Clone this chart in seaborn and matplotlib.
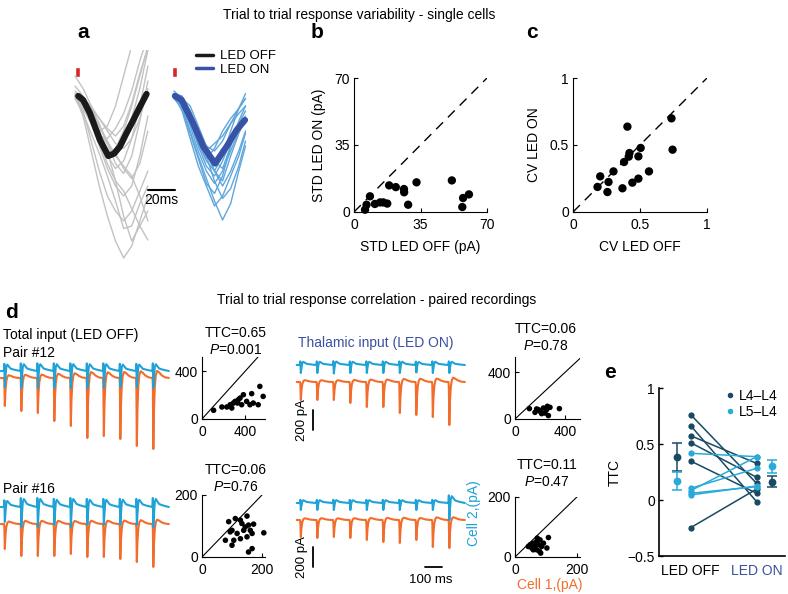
import numpy as np
import pandas as pd
import matplotlib
matplotlib.use('Agg')
import matplotlib.pyplot as plt
from matplotlib.lines import Line2D
import seaborn as sns

# ---------------- panel a: single-cell trials (pA), knots every 6 ms ----------------
trial_t = [0, 6, 12, 18, 24, 30, 36, 42, 48, 54]
off_trials = [
    [0, -15, -50, -90, -115, -105, -70, -20, 40, 100],
    [10, -5, -35, -80, -120, -145, -130, -85, -20, 60],
    [0, -30, -90, -150, -200, -230, -250, -230, -190, -150],
    [-5, -25, -55, -80, -85, -65, -35, 10, 70, 120],
    [0, -10, -40, -70, -110, -170, -240, -290, -260, -230],
    [5, -5, -25, -55, -95, -135, -155, -120, -50, 30],
    [0, -40, -110, -180, -240, -290, -324, -300, -250, -200],
    [0, -10, -25, -45, -65, -80, -60, -15, 45, 95],
    [5, -20, -55, -100, -145, -180, -200, -180, -120, -40],
    [0, -5, -20, -45, -70, -95, -105, -85, -45, 15],
    [-5, -35, -75, -115, -160, -210, -265, -260, -215, -180],
    [40, 15, -20, -60, -95, -120, -95, -45, 15, 92],
    [0, -20, -55, -95, -135, -170, -190, -225, -260, -288],
    [0, -10, -40, -75, -95, -115, -145, -165, -135, -70],
    [0, -20, -50, -70, -60, -20, 40, 100, 150, 200],
    [20, 0, -30, -60, -90, -120, -140, -160, -200, -250],
]
on_t = [0, 6, 12, 18, 24, 30, 36, 42, 48, 53]
on_trials = [
    [0, -10, -50, -100, -140, -160, -130, -90, -55, -30],
    [5, 0, -30, -70, -110, -150, -170, -120, -75, -45],
    [0, -20, -70, -120, -165, -210, -248, -215, -150, -100],
    [10, -5, -40, -80, -100, -110, -90, -55, -25, -5],
    [0, -15, -60, -110, -150, -175, -150, -110, -70, -50],
    [-5, -25, -75, -125, -175, -195, -160, -100, -60, -40],
    [0, -5, -20, -60, -100, -130, -145, -100, -50, -20],
    [5, -10, -45, -90, -125, -105, -70, -45, -25, 5],
    [0, -20, -55, -95, -130, -150, -120, -70, -25, -5],
    [0, -10, -35, -75, -120, -170, -205, -185, -140, -90],
    [0, -15, -50, -90, -110, -95, -80, -55, -35, -20],
    [5, -5, -30, -70, -115, -150, -180, -150, -110, -70],
    [0, -30, -85, -140, -180, -220, -200, -160, -120, -74],
]
mean_off_t = [2.4, 6, 11, 18.5, 24.7, 29, 33.3, 38, 43.2, 48, 53]
mean_off_v = [0, -8, -34, -88, -120, -115, -101, -75, -48, -22, 4]
mean_on_t = [0.7, 5.7, 14.3, 21.7, 30.4, 39, 46.4, 52.6]
mean_on_v = [0, -8, -55, -101, -135, -101, -68, -48]
stim_times = [1.9, 74.0]

# ---------------- panel b / c ----------------
std_off = [5.8, 6.6, 8.4, 11, 13.7, 15.4, 17.5, 18.5, 22, 26.3, 26.4, 28.5, 32.9, 51.5, 57.4, 57, 60.5]
std_on = [1.2, 3.8, 8.2, 4.2, 5, 5, 4.4, 13.9, 13, 12, 10.3, 3.8, 15.5, 16.5, 7.3, 2.6, 9.2]
cv_off = [0.183, 0.203, 0.265, 0.257, 0.302, 0.369, 0.381, 0.406, 0.416, 0.421, 0.443, 0.488, 0.488, 0.505, 0.567, 0.735, 0.743]
cv_on = [0.187, 0.266, 0.224, 0.149, 0.303, 0.177, 0.373, 0.637, 0.413, 0.44, 0.219, 0.415, 0.249, 0.478, 0.303, 0.699, 0.465]

# ---------------- panel d: pulse trains (10 Hz) ----------------
pulse_t = [0, 2, 5, 9, 14, 20, 28, 40, 55, 75, 99]
orange_shape = [0, -0.1, -1.0, -0.45, -0.12, 0.04, 0.1, 0.08, 0.04, 0.01, 0]
blue_shape = [0, 0.45, -1.0, -0.35, 0.25, 0.4, 0.3, 0.15, 0.1, 0.05, 0]

p12_off_cell1 = [280, 330, 350, 430, 480, 600, 580, 610, 680, 710]
p12_off_cell2 = [160, 170, 170, 170, 170, 170, 170, 160, 160, 170]
p12_on_cell1 = [180, 180, 180, 210, 250, 250, 310, 330, 350, 430]
p12_on_cell2 = [80, 80, 85, 80, 80, 80, 80, 75, 80, 80]
p16_off_cell1 = [250, 320, 320, 320, 300, 330, 330, 350, 380, 430]
p16_off_cell2 = [150, 200, 200, 180, 200, 180, 180, 180, 180, 200]
p16_on_cell1 = [170, 180, 170, 180, 200, 220, 230, 200, 270, 280]
p16_on_cell2 = [70, 70, 70, 70, 70, 70, 70, 70, 70, 170]

sc12_off_x = [108, 185, 231, 262, 292, 308, 338, 354, 385, 369, 415, 462, 477, 523, 538, 569, 329, 277, 446]
sc12_off_y = [73, 101, 101, 120, 134, 148, 162, 176, 204, 120, 148, 213, 134, 120, 274, 190, 134, 92, 120]
sc12_on_x = [115, 173, 200, 227, 240, 253, 267, 280, 213, 160, 355, 187, 259]
sc12_on_y = [89, 86, 66, 94, 51, 80, 29, 100, 46, 57, 89, 80, 109]
sc16_off_x = [89, 111, 150, 128, 133, 144, 155, 172, 161, 167, 100, 94, 78, 100, 128, 167, 155, 206, 139, 117, 150, 106]
sc16_off_y = [114, 124, 132, 119, 108, 97, 103, 106, 86, 76, 86, 81, 54, 38, 59, 27, 16, 78, 86, 76, 65, 54]
sc16_on_x = [49, 54, 59, 65, 70, 70, 76, 79, 81, 86, 92, 103, 108, 59, 43, 72, 83, 68]
sc16_on_y = [41, 30, 46, 35, 52, 24, 41, 19, 57, 35, 46, 30, 65, 24, 35, 63, 13, 41]

# ---------------- panel e ----------------
l44_off = [0.762, 0.664, 0.574, 0.512, 0.348, -0.247]
l44_on = [0.149, -0.015, 0.327, 0.203, 0.06, 0.098]
l54_off = [0.417, 0.104, 0.083, 0.06, 0.045]
l54_on = [0.387, 0.283, 0.387, 0.119, 0.125]
l44_mean = [0.383, 0.164]
l44_err = [0.125, 0.05]
l54_mean = [0.168, 0.30]
l54_err = [0.082, 0.06]

# ---------------- style ----------------
sns.set_theme(style='ticks', rc={'text.color': 'black', 'axes.labelcolor': 'black',
                                 'xtick.color': 'black', 'ytick.color': 'black',
                                 'axes.edgecolor': 'black'})
plt.rcParams['font.family'] = ['Liberation Sans', 'DejaVu Sans']
plt.rcParams['mathtext.fontset'] = 'custom'
plt.rcParams['mathtext.it'] = 'Liberation Sans:italic'
plt.rcParams['mathtext.rm'] = 'Liberation Sans'

W, H = 788, 594
BLUE = '#1fa2d6'
ORANGE = '#f26d2c'
DARK = '#184a64'
LIGHT = '#2aaad8'
INDIGO = '#3a50a0'


def rect(l, t, r, b):
    return [l / W, 1 - b / H, (r - l) / W, (b - t) / H]


def ftext(x, y, s, **kw):
    fig.text(x / W, 1 - y / H, s, **kw)


def scatter_style(ax, lim, ticks, labelsize=10):
    sns.despine(ax=ax)
    ax.set_xlim(lim[0])
    ax.set_ylim(lim[1])
    ax.set_xticks(ticks)
    ax.set_yticks(ticks)
    ax.tick_params(direction='in', length=3, width=0.8, labelsize=labelsize, pad=3)
    ax.tick_params(axis='x', pad=4)
    for s in ax.spines.values():
        s.set_linewidth(0.8)


fig = plt.figure(figsize=(W / 100, H / 100), dpi=100)

ftext(223, 15, 'Trial to trial response variability - single cells', fontsize=10, va='center')
ftext(217, 300, 'Trial to trial response correlation - paired recordings', fontsize=10, va='center')
for letter, x, y in [('a', 83, 32), ('b', 317, 32), ('c', 532, 32), ('d', 12, 312), ('e', 610, 373)]:
    ftext(x, y, letter, fontsize=15, fontweight='bold', ha='center', va='center')

# ---------------- panel a ----------------
ON_SHIFT = 73.3
ax_a = fig.add_axes(rect(70, 50, 262, 270))
ax_a.set_xlim(-3.7, 138.5)
ax_a.set_ylim(-348, 92)
ax_a.axis('off')
df_off = pd.DataFrame([(t, v, i) for i, tr in enumerate(off_trials) for t, v in zip(trial_t, tr)],
                      columns=['t', 'v', 'trial'])
df_on = pd.DataFrame([(t + ON_SHIFT, v, i) for i, tr in enumerate(on_trials) for t, v in zip(on_t, tr)],
                     columns=['t', 'v', 'trial'])
sns.lineplot(data=df_off, x='t', y='v', units='trial', estimator=None, sort=False,
             color='#c2c2c2', lw=1.0, ax=ax_a)
sns.lineplot(data=df_on, x='t', y='v', units='trial', estimator=None, sort=False,
             color='#5fa6dd', lw=1.0, ax=ax_a)
ax_a.plot(mean_off_t, mean_off_v, color='#1a1a1a', lw=4.5, solid_capstyle='round')
ax_a.plot(np.array(mean_on_t) + ON_SHIFT, mean_on_v, color='#3853a6', lw=4.5, solid_capstyle='round')
ax_a.bar(stim_times, 20, bottom=38, width=3.6, color='#d7262b')
ax_a.plot([54, 74], [-188, -188], color='black', lw=1.5)
ax_a.text(64, -194, '20ms', ha='center', va='top', fontsize=10)
fig.legend([Line2D([], [], color='#1a1a1a', lw=2.5), Line2D([], [], color='#3853a6', lw=2.5)],
           ['LED OFF', 'LED ON'], loc='upper left', bbox_to_anchor=(196 / W, 1 - 50 / H),
           frameon=False, fontsize=9.5, handlelength=1.3, handletextpad=0.5,
           labelspacing=0.1, borderpad=0, borderaxespad=0)

# ---------------- panel b ----------------
ax_b = fig.add_axes(rect(354, 78, 487, 212))
sns.scatterplot(x=std_off, y=std_on, ax=ax_b, color='black', s=36, edgecolor='none', clip_on=False)
ax_b.axline((0, 0), slope=1, color='black', lw=1, ls=(0, (7, 5)))
scatter_style(ax_b, [(0, 70), (0, 70)], [0, 35, 70])
ax_b.set_xlabel('STD LED OFF (pA)', fontsize=10, labelpad=6)
ax_b.set_ylabel('STD LED ON (pA)', fontsize=10, labelpad=6)

# ---------------- panel c ----------------
ax_c = fig.add_axes(rect(573, 78, 707, 212))
sns.scatterplot(x=cv_off, y=cv_on, ax=ax_c, color='black', s=36, edgecolor='none', clip_on=False)
ax_c.axline((0, 0), slope=1, color='black', lw=1, ls=(0, (7, 5)))
scatter_style(ax_c, [(0, 1), (0, 1)], [0, 0.5, 1])
ax_c.set_xticklabels(['0', '0.5', '1'])
ax_c.set_yticklabels(['0', '0.5', '1'])
ax_c.set_xlabel('CV LED OFF', fontsize=10, labelpad=6)
ax_c.set_ylabel('CV LED ON', fontsize=10, labelpad=6)


# ---------------- panel d traces ----------------
def pulse_train(amps, shape, offset):
    t, v = [-20.0], [offset]
    for k, a in enumerate(amps):
        for pt, s in zip(pulse_t, shape):
            t.append(k * 100 + pt)
            v.append(offset + a * s)
    return t, v


PX_MS = 0.165
ax_dl = fig.add_axes(rect(0, 355, 170, 590))
ax_dl.set_xlim(-4 / PX_MS, 166 / PX_MS)
ax_dl.set_ylim(-2350, 0)
ax_dl.axis('off')
for amps, shape, off, col in [(p12_off_cell1, orange_shape, -230, ORANGE),
                              (p12_off_cell2, blue_shape, -160, BLUE),
                              (p16_off_cell1, orange_shape, -1690, ORANGE),
                              (p16_off_cell2, blue_shape, -1520, BLUE)]:
    t, v = pulse_train(amps, shape, off)
    sns.lineplot(x=t, y=v, sort=False, estimator=None, color=col, lw=1.5, ax=ax_dl)

ax_dr = fig.add_axes(rect(290, 355, 470, 590))
ax_dr.set_xlim(-10 / PX_MS, 170 / PX_MS)
ax_dr.set_ylim(-2350, 0)
ax_dr.axis('off')
for amps, shape, off, col in [(p12_on_cell1, orange_shape, -270, ORANGE),
                              (p12_on_cell2, blue_shape, -100, BLUE),
                              (p16_on_cell1, orange_shape, -1650, ORANGE),
                              (p16_on_cell2, blue_shape, -1480, BLUE)]:
    t, v = pulse_train(amps, shape, off)
    sns.lineplot(x=t, y=v, sort=False, estimator=None, color=col, lw=1.5, ax=ax_dr)
for y0 in (-550, -1920):
    ax_dr.plot([79, 79], [y0, y0 - 200], color='black', lw=1.3)
    ax_dr.text(12, y0 - 100, '200 pA', rotation=90, ha='center', va='center', fontsize=9.5)
ax_dr.plot([758, 861], [-2120, -2120], color='black', lw=1.3)
ax_dr.text(794, -2250, '100 ms', ha='center', va='center', fontsize=9.5)

ftext(3, 335, 'Total input (LED OFF)', fontsize=10, va='center')
ftext(3, 353, 'Pair #12', fontsize=10, va='center')
ftext(3, 489, 'Pair #16', fontsize=10, va='center')
ftext(298, 343, 'Thalamic input (LED ON)', fontsize=10, va='center', color=INDIGO)

# ---------------- panel d scatters ----------------
for box, xs, ys, lim, ticks, ttc, p, tpos in [
        ((202, 357, 265, 419), sc12_off_x, sc12_off_y, [(0, 586), (0, 521)], [0, 400], '0.65', '0.001', (236, 333)),
        ((515, 357, 580, 419), sc12_on_x, sc12_on_y, [(0, 520), (0, 532)], [0, 400], '0.06', '0.78', (546, 329)),
        ((202, 495, 265, 557), sc16_off_x, sc16_off_y, [(0, 210), (0, 200)], [0, 200], '0.06', '0.76', (236, 470)),
        ((515, 497, 580, 557), sc16_on_x, sc16_on_y, [(0, 210), (0, 200)], [0, 200], '0.11', '0.47', (547, 465))]:
    ax = fig.add_axes(rect(*box))
    sns.scatterplot(x=xs, y=ys, ax=ax, color='black', s=16, edgecolor='none', clip_on=False)
    ax.axline((0, 0), slope=1, color='black', lw=0.8)
    scatter_style(ax, lim, ticks)
    ftext(tpos[0], tpos[1], 'TTC=' + ttc, fontsize=10, ha='center', va='center')
    ftext(tpos[0], tpos[1] + 17, '$P$=' + p, fontsize=10, ha='center', va='center')

ftext(474, 513, 'Cell 2,(pA)', rotation=90, fontsize=10, ha='center', va='center', color=BLUE)
ftext(550, 585, 'Cell 1,(pA)', fontsize=10, ha='center', va='center', color=ORANGE)

# ---------------- panel e ----------------
ax_e = fig.add_axes(rect(659, 388, 785, 556))
df_e = pd.DataFrame(
    [(1, v, i, 'L4–L4') for i, v in enumerate(l44_off)] + [(2, v, i, 'L4–L4') for i, v in enumerate(l44_on)] +
    [(1, v, i + 10, 'L5–L4') for i, v in enumerate(l54_off)] + [(2, v, i + 10, 'L5–L4') for i, v in enumerate(l54_on)],
    columns=['cond', 'ttc', 'pair', 'group'])
sns.lineplot(data=df_e, x='cond', y='ttc', units='pair', hue='group', estimator=None,
             palette={'L4–L4': DARK, 'L5–L4': LIGHT}, lw=1.1, marker='o', markersize=4.5,
             markeredgewidth=0, legend=False, ax=ax_e)
for xpos, k in [(0.8, 0), (2.23, 1)]:
    ax_e.errorbar(xpos, l44_mean[k], yerr=l44_err[k], color=DARK, fmt='o', ms=4.5, capsize=3.5, lw=1.1, mew=1.1)
    ax_e.errorbar(xpos, l54_mean[k], yerr=l54_err[k], color=LIGHT, fmt='o', ms=4.5, capsize=3.5, lw=1.1, mew=1.1)
sns.despine(ax=ax_e)
ax_e.set_xlim(0.52, 2.43)
ax_e.set_ylim(-0.5, 1)
ax_e.set_yticks([-0.5, 0, 0.5, 1])
ax_e.set_yticklabels(['\u22120.5', '0', '0.5', '1'])
ax_e.set_xticks([1, 2])
ax_e.set_xticklabels(['LED OFF', 'LED ON'])
ax_e.get_xticklabels()[1].set_color(INDIGO)
ax_e.tick_params(axis='y', direction='in', length=3, width=1, labelsize=10, pad=3)
ax_e.tick_params(axis='x', length=0, labelsize=10, pad=6)
for s in ax_e.spines.values():
    s.set_linewidth(1.2)
ax_e.set_xlabel('')
ax_e.set_ylabel('TTC', fontsize=10, labelpad=4)
ax_e.legend([Line2D([], [], ls='', marker='o', ms=4, color=DARK, mew=0),
             Line2D([], [], ls='', marker='o', ms=4, color=LIGHT, mew=0)],
            ['L4–L4', 'L5–L4'], loc='upper left', bbox_to_anchor=(726 / W, 1 - 389 / H),
            bbox_transform=fig.transFigure, frameon=False, fontsize=10, handlelength=0.6,
            handletextpad=0.3, labelspacing=0.15, borderpad=0, borderaxespad=0)

fig.savefig('out.png', dpi=100)
